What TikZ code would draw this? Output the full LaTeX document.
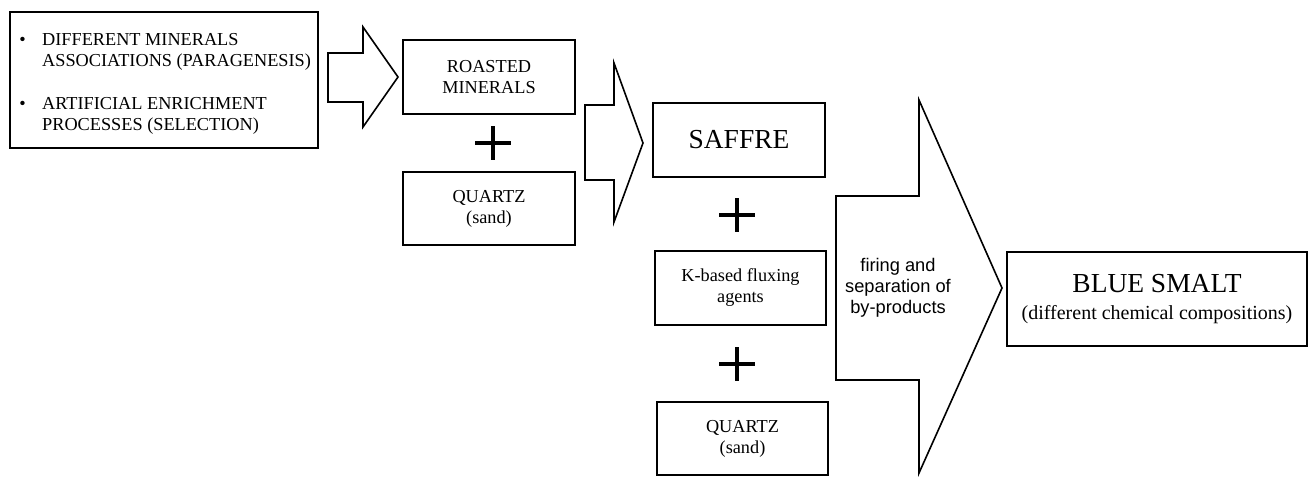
\documentclass[tikz,border=0pt]{standalone}
\usepackage{fontspec}
\setmainfont{Liberation Serif}
\newfontfamily\sanslib{Liberation Sans}
\usepackage{tikz}

\newcommand{\smallserif}{\fontsize{13.7}{15.75}\selectfont}
\newcommand{\bigserif}{\fontsize{20.6}{24}\selectfont}

\begin{document}
\begin{tikzpicture}[x=0.75pt,y=-0.75pt,
  box/.style={draw, line width=1.4pt, inner sep=2pt, align=center, font=\smallserif},
  blockarrow/.style={draw, line width=1.2pt, line join=miter, fill=white}]
\useasboundingbox (0,0) rectangle (1309,476);

% left column
\node[box, minimum width=231pt, minimum height=102pt] (src) at (164,80) {};
\node[anchor=north west, inner sep=0pt, font=\smallserif] (srclist) at (19,31)
 {\begin{tabular}{@{}l@{\hspace{12.4pt}}l@{}}
  \textbullet & DIFFERENT MINERALS\\
   & ASSOCIATIONS (PARAGENESIS)\\[16.5pt]
  \textbullet & ARTIFICIAL ENRICHMENT\\
   & PROCESSES (SELECTION)
 \end{tabular}};

\draw[blockarrow] (328,53) -- (363,53) -- (363,27) -- (398,77) -- (363,127) -- (363,102) -- (328,102) -- cycle;

% roasted minerals + quartz
\node[box, minimum width=129pt, minimum height=55.5pt] (roast) at (489,77) {ROASTED\\MINERALS};
\node[box, minimum width=129pt, minimum height=54.75pt] (quartzA) at (489,208.5) {QUARTZ\\(sand)};

\draw[blockarrow] (585,105) -- (614,105) -- (614,63) -- (643,143) -- (614,222) -- (614,180) -- (585,180) -- cycle;

% saffre + flux + quartz
\node[box, minimum width=129pt, minimum height=55.5pt, font=\bigserif] (saffre) at (739,140) {SAFFRE};
\node[box, minimum width=128.25pt, minimum height=55.5pt] (flux) at (740.5,288) {K-based fluxing\\agents};
\node[box, minimum width=128.25pt, minimum height=54.75pt] (quartzB) at (742.5,438.5) {QUARTZ\\(sand)};

% plus signs
\foreach \px/\py in {493/143, 737/215, 737/364}
  \draw[line width=3pt] (\px-18,\py) -- (\px+18,\py) (\px,\py-17) -- (\px,\py+17);

% firing arrow
\draw[blockarrow] (836,196) -- (919,196) -- (919,100) -- (1002,288) -- (919,473) -- (919,380) -- (836,380) -- cycle;
\node[align=center, font=\sanslib\fontsize{13.7}{15.75}\selectfont] (fire) at (898,288) {firing and\\separation of\\by-products};

% result
\node[box, minimum width=225pt, minimum height=70.5pt] (smalt) at (1157,299)
 {\bigserif BLUE SMALT\\[4pt]\fontsize{15}{18}\selectfont (different chemical compositions)};
\end{tikzpicture}
\end{document}
